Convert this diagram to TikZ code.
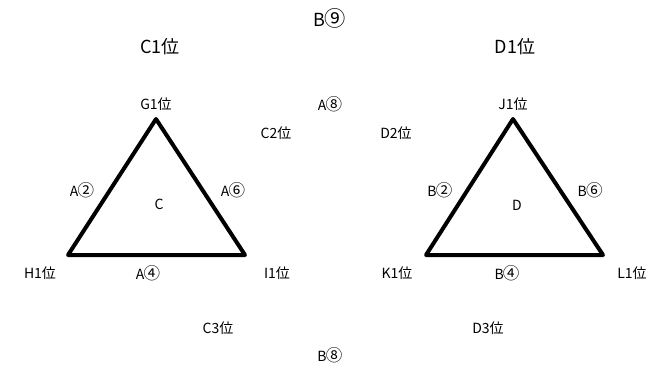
\documentclass[tikz,border=0pt]{standalone}
\usepackage{fontspec}
\setmainfont{Noto Sans CJK JP}
\newfontfamily\cnumfont[Scale=1.18]{Noto Sans CJK JP}
\newcommand{\cnum}[1]{\kern-0.05em{\cnumfont #1}}
\begin{document}
\begin{tikzpicture}[x=1pt,y=-1pt,
  lbl/.style={inner sep=0pt,font=\fontsize{14}{16}\selectfont},
  big/.style={inner sep=0pt,font=\fontsize{18}{20}\selectfont},
  tri/.style={line width=4pt,line join=round}]
\useasboundingbox (0,0) rectangle (660,370);
\coordinate (G) at (156,119);
\coordinate (H) at (68,255);
\coordinate (I) at (245,255);
\coordinate (J) at (513,119);
\coordinate (K) at (426,255);
\coordinate (L) at (603,255);
\draw[tri] (G) -- (H) -- (I) -- cycle;
\draw[tri] (J) -- (K) -- (L) -- cycle;
\node[big] (b9) at (330,18) {B\cnum{⑨}};
\node[big] (c1) at (160,47) {C1位};
\node[big] (d1) at (515,47) {D1位};
\node[lbl] (g1) at (156,104) {G1位};
\node[lbl] (a8) at (330,104) {A\cnum{⑧}};
\node[lbl] (c2) at (276,133) {C2位};
\node[lbl] (j1) at (513,104) {J1位};
\node[lbl] (d2) at (396,133) {D2位};
\node[lbl] (a2) at (82,190) {A\cnum{②}};
\node[lbl] (cc) at (159,204) {C};
\node[lbl] (a6) at (233,190) {A\cnum{⑥}};
\node[lbl] (b2) at (440,190) {B\cnum{②}};
\node[lbl] (dd) at (517,205) {D};
\node[lbl] (b6) at (590,190) {B\cnum{⑥}};
\node[lbl] (h1) at (40,273) {H1位};
\node[lbl] (a4) at (148,273) {A\cnum{④}};
\node[lbl] (i1) at (277,273) {I1位};
\node[lbl] (k1) at (397,273) {K1位};
\node[lbl] (b4) at (507,273) {B\cnum{④}};
\node[lbl] (l1) at (632,273) {L1位};
\node[lbl] (c3) at (218,328) {C3位};
\node[lbl] (d3) at (488,328) {D3位};
\node[lbl] (b8) at (330,355) {B\cnum{⑧}};
\end{tikzpicture}
\end{document}
